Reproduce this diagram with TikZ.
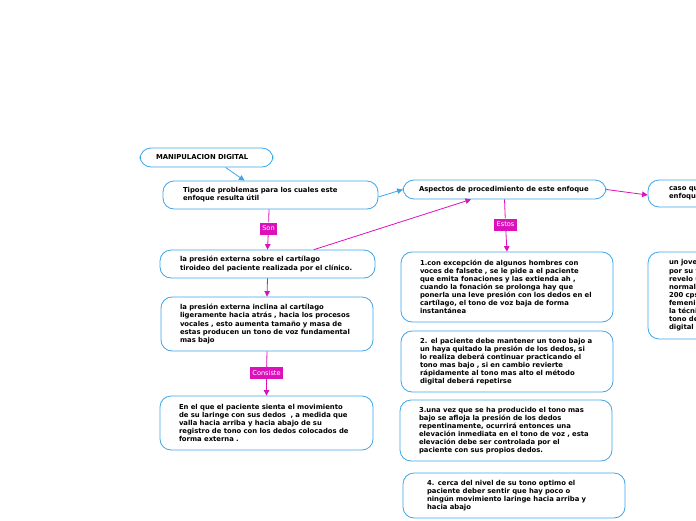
\documentclass[tikz,border=0pt]{standalone}
\usepackage{fontspec}
\setmainfont{DejaVu Sans}
\usetikzlibrary{arrows.meta}
\definecolor{bblue}{HTML}{3DA5E8}
\definecolor{mag}{HTML}{DD11BB}
\begin{document}
\begin{tikzpicture}[x=1pt,y=-1pt,
  box/.style={draw=bblue, line width=0.8pt, rounded corners=11pt, fill=white,
    font=\fontsize{6.85pt}{8.1pt}\selectfont\bfseries, align=left, inner ysep=1pt},
  lab/.style={fill=mag, text=white, font=\fontsize{6.6pt}{7pt}\selectfont,
    inner xsep=2.5pt, inner ysep=2pt, minimum height=12pt},
  barr/.style={draw=bblue, line width=0.8pt, -{Triangle[length=5.5pt,width=5.5pt]}},
  marr/.style={draw=mag, line width=0.8pt, -{Triangle[length=5.5pt,width=5.5pt]}},
  mline/.style={draw=mag, line width=0.8pt}]
\useasboundingbox (0,0) rectangle (696,520);
\clip (0,0) rectangle (696,520);

\node[box, minimum width=133pt, minimum height=19pt, text width=101pt, inner xsep=16pt]
  (md) at (206.5,157.5) {MANIPULACION DIGITAL};
\node[box, minimum width=215pt, minimum height=28pt, text width=175pt, inner xsep=20pt]
  (tipos) at (270.5,195) {Tipos de problemas para los cuales este\\enfoque resulta útil};
\node[box, minimum width=203pt, minimum height=19pt, text width=175pt, inner xsep=14pt]
  (asp) at (504.5,189.5) {\hspace*{2pt}Aspectos de procedimiento de este enfoque};
\node[box, minimum width=224pt, minimum height=27pt, text width=182pt, inner xsep=21pt]
  (caso) at (760,193.5) {caso qu\\enfoqu};
\node[box, minimum width=215pt, minimum height=28pt, text width=175pt, inner xsep=20pt]
  (pres) at (267.5,264) {la presión externa sobre el cartílago\\tiroideo del paciente realizada por el clínico.};
\node[box, minimum width=212pt, minimum height=54pt, text width=174pt, inner xsep=19pt]
  (incl) at (267,324) {la presión externa inclina al cartílago\\ligeramente hacia atrás , hacia los procesos\\vocales , esto aumenta tamaño y masa de\\estas producen un tono de voz fundamental\\mas bajo};
\node[box, minimum width=213pt, minimum height=54pt, text width=175pt, inner xsep=19pt]
  (cons) at (266.5,423) {En el que el paciente sienta el movimiento\\de su laringe con sus dedos \ , a medida que\\valla hacia arriba y hacia abajo de su\\registro de tono con los dedos colocados de\\forma externa .};
\node[box, minimum width=212pt, minimum height=70pt, text width=174pt, inner xsep=19pt]
  (b1) at (507,287) {1.con excepción de algunos hombres con\\voces de falsete , se le pide a el paciente\\que emita fonaciones y las extienda ah ,\\cuando la fonación se prolonga hay que\\ponerla una leve presión con los dedos en el\\cartílago, el tono de voz baja de forma\\instantánea};
\node[box, minimum width=212pt, minimum height=61pt, text width=174pt, inner xsep=19pt]
  (b2) at (507,361.5) {2. el paciente debe mantener un tono bajo a\\un haya quitado la presión de los dedos, si\\lo realiza deberá continuar practicando el\\tono mas bajo , si en cambio revierte\\rápidamente al tono mas alto el método\\digital deberá repetirse};
\node[box, minimum width=212pt, minimum height=61pt, text width=174pt, inner xsep=19pt]
  (b3) at (506,430.5) {3.una vez que se ha producido el tono mas\\bajo se afloja la presión de los dedos\\repentinamente, ocurrirá entonces una\\elevación inmediata en el tono de voz , esta\\elevación debe ser controlada por el\\paciente con sus propios dedos.};
\node[box, minimum width=222pt, minimum height=45pt, text width=174pt, inner xsep=24pt]
  (b4) at (514,495.5) {4. cerca del nivel de su tono optimo el\\paciente deber sentir que hay poco o\\ningún movimiento laringe hacia arriba y\\hacia abajo};
\node[box, minimum width=224pt, minimum height=87pt, text width=182pt, inner xsep=21pt]
  (jov) at (760,295.5) {un jove\\por su f\\revelo u\\normal\\200 cps\\femenin\\la técni\\tono de\\digital s};

% labels
\node[lab] (son) at (268.5,228.5) {Son};
\node[lab] (consiste) at (266.5,373) {Consiste};
\node[lab] (estos) at (505.5,224.5) {Estos};

% connectors
\draw[barr] ([xshift=19pt]md.south) -- ([xshift=-26pt]tipos.north);
\draw[barr] ([yshift=-2pt]tipos.east) -- ([yshift=0pt]asp.west);
\draw[marr] (asp.east) -- ([yshift=-1.5pt]caso.west);
\draw[mline] ([xshift=-1.5pt]tipos.south) -- (son);
\draw[marr] (son) -- (pres.north);
\draw[marr] ([xshift=46.5pt]pres.north) -- ([xshift=-33.5pt]asp.south);
\draw[marr] (pres.south) -- (incl.north);
\draw[mline] (incl.south) -- (consiste);
\draw[marr] (consiste) -- (cons.north);
\draw[mline] (asp.south) -- (estos);
\draw[marr] (estos) -- (b1.north);
\end{tikzpicture}
\end{document}
